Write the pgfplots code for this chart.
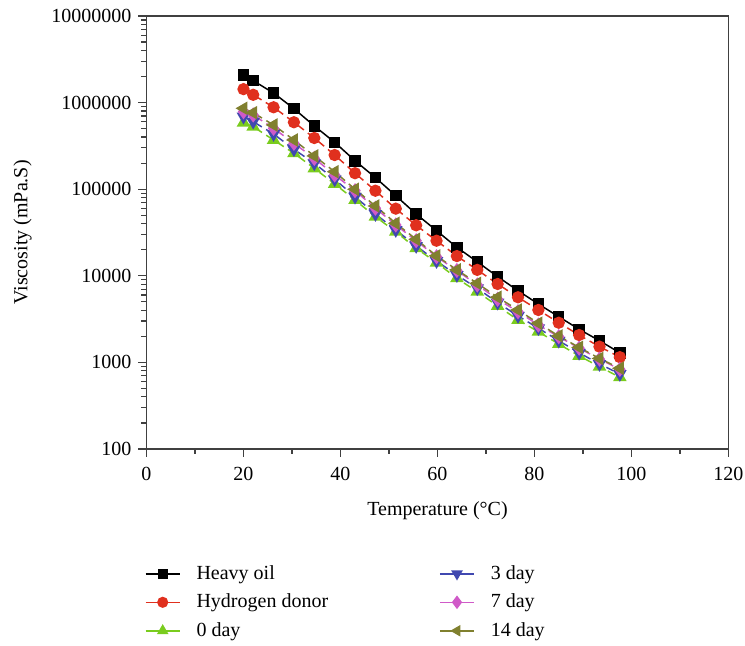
\documentclass[border=0pt]{standalone}
\usepackage{fontspec}
\setmainfont{Liberation Serif}
\usepackage{pgfplots}
\pgfplotsset{compat=1.18}
\definecolor{cRed}{HTML}{E0301E}
\definecolor{cGreen}{HTML}{7ACC1E}
\definecolor{cBlue}{HTML}{4048B0}
\definecolor{cMag}{HTML}{D05AC8}
\definecolor{cOli}{HTML}{80802F}
\definecolor{axgray}{HTML}{404040}
\begin{document}
\begin{tikzpicture}
\useasboundingbox (-73.25pt,-98.5pt) rectangle (299.25pt,224.5pt);
\begin{axis}[
  scale only axis,
  width=291pt, height=216.5pt,
  ymode=log,
  xmin=0, xmax=120, ymin=100, ymax=1e7,
  xtick={0,20,...,120},
  minor x tick num=1,
  ytick={100,1000,10000,100000,1000000,10000000},
  yticklabels={100,1000,10000,100000,1000000,10000000},
  minor ytick={200,300,400,500,600,700,800,900,2000,3000,4000,5000,6000,7000,8000,9000,20000,30000,40000,50000,60000,70000,80000,90000,200000,300000,400000,500000,600000,700000,800000,900000,2000000,3000000,4000000,5000000,6000000,7000000,8000000,9000000},
  tick align=outside,
  xtick pos=bottom, ytick pos=left,
  major tick length=4pt, minor tick length=2.5pt,
  axis line style={axgray, line width=0.6pt},
  every tick/.style={axgray, line width=0.6pt},
  /pgf/number format/assume math mode=true,
  xticklabel style={yshift=-1.5pt},
  xlabel={Temperature (°C)},
  xlabel style={yshift=-3.5pt},
  ylabel={Viscosity (mPa.S)},
  ylabel style={yshift=3pt},
  legend columns=2,
  legend cell align=left,
  legend style={draw=none, fill=none, at={(axis description cs:0,0)}, anchor=north west, yshift=-54pt, xshift=-4pt,
    row sep=1.8pt,
    /tikz/every odd column/.append style={column sep=6pt},
    /tikz/every even column/.append style={column sep=53.5pt}},
  every axis plot/.append style={line width=0.75pt},
]
\addplot[black, mark=square*, mark size=2.5pt, forget plot] coordinates {
(20,2080000) (22,1790000) (26.2,1290000) (30.4,851000) (34.6,537000) (38.8,348000) (43,213000) (47.2,136000) (51.4,84000) (55.6,51700) (59.8,33200) (64,21300) (68.2,14500) (72.4,9770) (76.6,6730) (80.8,4720) (85,3370) (89.2,2410) (93.4,1780) (97.6,1290)};
\addplot[cRed, dash pattern=on 4pt off 2.5pt, mark=*, mark size=2.7pt, mark options={solid}, forget plot] coordinates {
(20,1430000) (22,1230000) (26.2,883000) (30.4,593000) (34.6,390000) (38.8,248000) (43,153000) (47.2,96000) (51.4,59600) (55.6,38300) (59.8,25400) (64,16900) (68.2,11700) (72.4,8040) (76.6,5650) (80.8,4030) (85,2870) (89.2,2070) (93.4,1520) (97.6,1150)};
\addplot[cGreen, dash pattern=on 4pt off 2.5pt, mark=triangle*, mark size=3.2pt, mark options={solid}, forget plot] coordinates {
(20,586000) (22,527000) (26.2,370000) (30.4,260000) (34.6,174000) (38.8,115000) (43,75000) (47.2,48100) (51.4,32300) (55.6,20800) (59.8,14200) (64,9360) (68.2,6550) (72.4,4480) (76.6,3090) (80.8,2260) (85,1630) (89.2,1190) (93.4,892) (97.6,673)};
\addplot[cBlue, dash pattern=on 4pt off 2.5pt, mark=triangle*, mark size=3.2pt, mark options={solid, rotate=180}, forget plot] coordinates {
(20,688000) (22,602000) (26.2,434000) (30.4,289000) (34.6,199000) (38.8,130000) (43,81900) (47.2,51700) (51.4,33800) (55.6,22100) (59.8,14800) (64,10200) (68.2,7180) (72.4,4890) (76.6,3440) (80.8,2480) (85,1780) (89.2,1290) (93.4,959) (97.6,735)};
\addplot[cMag, dash pattern=on 4pt off 2.5pt, mark=diamond*, mark size=3.2pt, mark options={solid}, forget plot] coordinates {
(20,785000) (22,719000) (26.2,505000) (30.4,339000) (34.6,227000) (38.8,146000) (43,96100) (47.2,60200) (51.4,38600) (55.6,25400) (59.8,16600) (64,11500) (68.2,7830) (72.4,5350) (76.6,3850) (80.8,2700) (85,1980) (89.2,1460) (93.4,1090) (97.6,832)};
\addplot[cOli, dash pattern=on 4pt off 2.5pt, mark=triangle*, mark size=3.2pt, mark options={solid, rotate=90}, forget plot] coordinates {
(20,859000) (22,764000) (26.2,551000) (30.4,370000) (34.6,242000) (38.8,159000) (43,99800) (47.2,64000) (51.4,40400) (55.6,26400) (59.8,17000) (64,11700) (68.2,8190) (72.4,5650) (76.6,4030) (80.8,2830) (85,2020) (89.2,1490) (93.4,1110) (97.6,855)};
\addlegendimage{black, line width=0.75pt, mark=square*, mark size=2.2pt}
\addlegendentry{Heavy oil}
\addlegendimage{cBlue, line width=0.75pt, mark=triangle*, mark size=2.6pt, mark options={rotate=180}}
\addlegendentry{3 day}
\addlegendimage{cRed, line width=0.75pt, mark=*, mark size=2.4pt}
\addlegendentry{Hydrogen donor}
\addlegendimage{cMag, line width=0.75pt, mark=diamond*, mark size=2.8pt}
\addlegendentry{7 day}
\addlegendimage{cGreen, line width=0.75pt, mark=triangle*, mark size=2.6pt}
\addlegendentry{0 day}
\addlegendimage{cOli, line width=0.75pt, mark=triangle*, mark size=2.6pt, mark options={rotate=90}}
\addlegendentry{14 day}
\end{axis}
\end{tikzpicture}
\end{document}
